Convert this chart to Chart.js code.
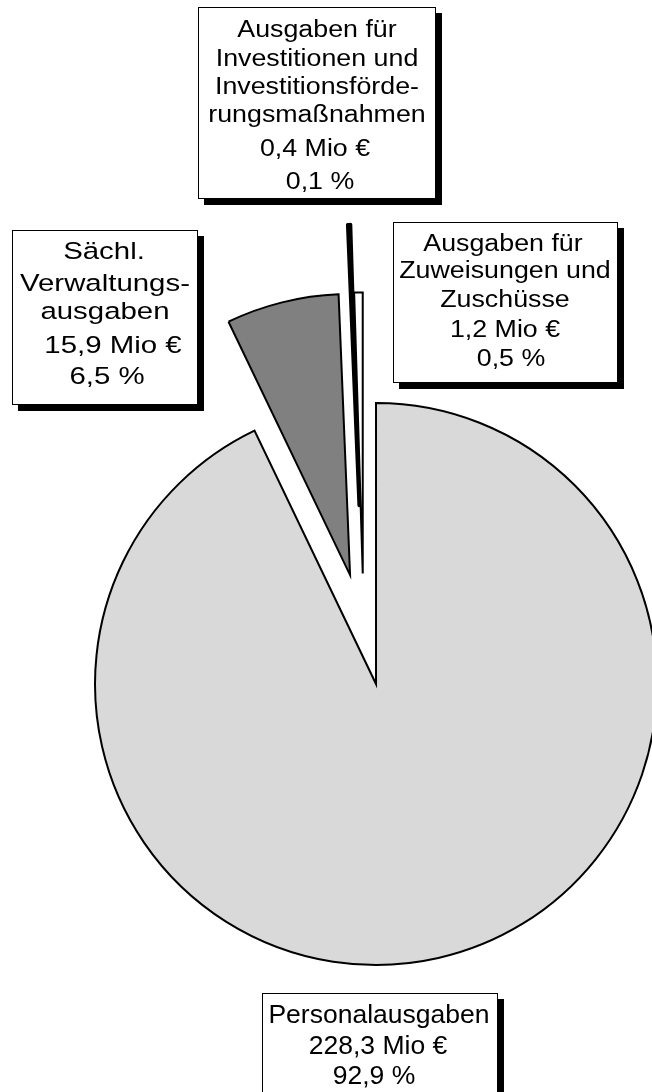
<!DOCTYPE html>
<html><head><meta charset="utf-8">
<script src="https://cdn.jsdelivr.net/npm/chart.js@4.4.1/dist/chart.umd.min.js"></script>
<style>
html,body{margin:0;padding:0;background:#fff;}
#stage{position:relative;width:652px;height:1092px;overflow:hidden;background:#fff;}
#stage canvas{position:absolute;left:0;top:0;}
.box{position:absolute;background:#fff;border:1px solid #000;box-shadow:6px 6px 0 #000;box-sizing:border-box;}
.line{position:absolute;width:400px;text-align:center;white-space:pre;font-family:"Liberation Sans",Arial,sans-serif;color:#000;transform-origin:50% 50%;}
</style></head><body><div id="stage"></div>
<script>
// ---- data ----
const categories = ["Personalausgaben", "Sächl. Verwaltungsausgaben", "Ausgaben für Investitionen und Investitionsförderungsmaßnahmen", "Ausgaben für Zuweisungen und Zuschüsse"];
const valuesMio = [228.3, 15.9, 0.4, 1.2];
const percents = [92.9, 6.5, 0.1, 0.5];
const labelNameLines = [
  ["Personalausgaben"],
  ["Sächl.", "Verwaltungs-", "ausgaben"],
  ["Ausgaben für", "Investitionen und", "Investitionsförde-", "rungsmaßnahmen"],
  ["Ausgaben für", "Zuweisungen und", "Zuschüsse"]
];
const sliceColors = ["#d9d9d9", "#808080", "#000000", "#ffffff"];

// ---- layout / style (not data) ----
const PIE = {cx: 363.6, cy: 629.4, r: 281, explode: [56, 56, 124, 56], border: [2, 2, 3.5, 2], join: ['miter', 'miter', 'round', 'miter']};
const LABELS = [
  {box: [262, 993, 236, 130], fs: 25.5, sx: 1.04, base: [1023.3, 1055, 1085], xc: [378.5, 378, 374]},
  {box: [12, 230, 186, 175], fs: 24.5, sx: 1.2, base: [260, 291.7, 320, 353.3, 385], xc: [104, 104.5, 105, 113, 107]},
  {box: [198, 7, 238, 192], fs: 23.5, sx: 1.14, base: [38.3, 66.7, 95, 123.3, 156.7, 190], xc: [317, 317, 317, 317, 314.5, 320]},
  {box: [393, 222, 225, 161], fs: 23.5, sx: 1.14, base: [251.7, 279.3, 308.3, 338.3, 366.7], xc: [503, 505, 505, 505, 511]}
];

const fmt = v => v.toFixed(1).replace('.', ',');
const stage = document.getElementById('stage');
const total = valuesMio.reduce((a, b) => a + b, 0);
let cum = 0;
valuesMio.forEach((v, i) => {
  const mid = (cum + v / 2) / total * 2 * Math.PI;
  cum += v;
  const x = PIE.cx + PIE.explode[i] * Math.sin(mid);
  const y = PIE.cy - PIE.explode[i] * Math.cos(mid);
  const cv = document.createElement('canvas');
  cv.width = 652; cv.height = 1092;
  cv.style.width = '652px'; cv.style.height = '1092px';
  stage.appendChild(cv);
  new Chart(cv, {
    type: 'pie',
    data: {
      labels: categories,
      datasets: [{
        data: valuesMio,
        backgroundColor: sliceColors.map((c, j) => j === i ? c : 'rgba(0,0,0,0)'),
        borderColor: sliceColors.map((c, j) => j === i ? '#000000' : 'rgba(0,0,0,0)'),
        borderWidth: valuesMio.map((_, j) => j === i ? PIE.border[j] : 0),
        borderJoinStyle: PIE.join,
        clip: false
      }]
    },
    options: {
      responsive: false,
      animation: false,
      devicePixelRatio: 1,
      radius: PIE.r,
      layout: {padding: {left: x - 50, right: 652 - x - 50, top: y - 50, bottom: 1092 - y - 50}},
      plugins: {legend: {display: false}, tooltip: {enabled: false}},
      events: []
    }
  });
});

// labels
LABELS.forEach((L, i) => {
  const b = document.createElement('div');
  b.className = 'box';
  b.style.left = L.box[0] + 'px'; b.style.top = L.box[1] + 'px';
  b.style.width = L.box[2] + 'px'; b.style.height = L.box[3] + 'px';
  stage.appendChild(b);
  const lines = labelNameLines[i].concat([fmt(valuesMio[i]) + ' Mio €', fmt(percents[i]) + ' %']);
  lines.forEach((t, k) => {
    const d = document.createElement('div');
    d.className = 'line';
    d.textContent = t;
    d.style.fontSize = L.fs + 'px';
    d.style.lineHeight = L.fs + 'px';
    d.style.left = (L.xc[k] - 200) + 'px';
    d.style.top = (L.base[k] - 0.8465 * L.fs) + 'px';
    d.style.transform = 'scaleX(' + L.sx + ')';
    stage.appendChild(d);
  });
});
</script>
</body></html>
